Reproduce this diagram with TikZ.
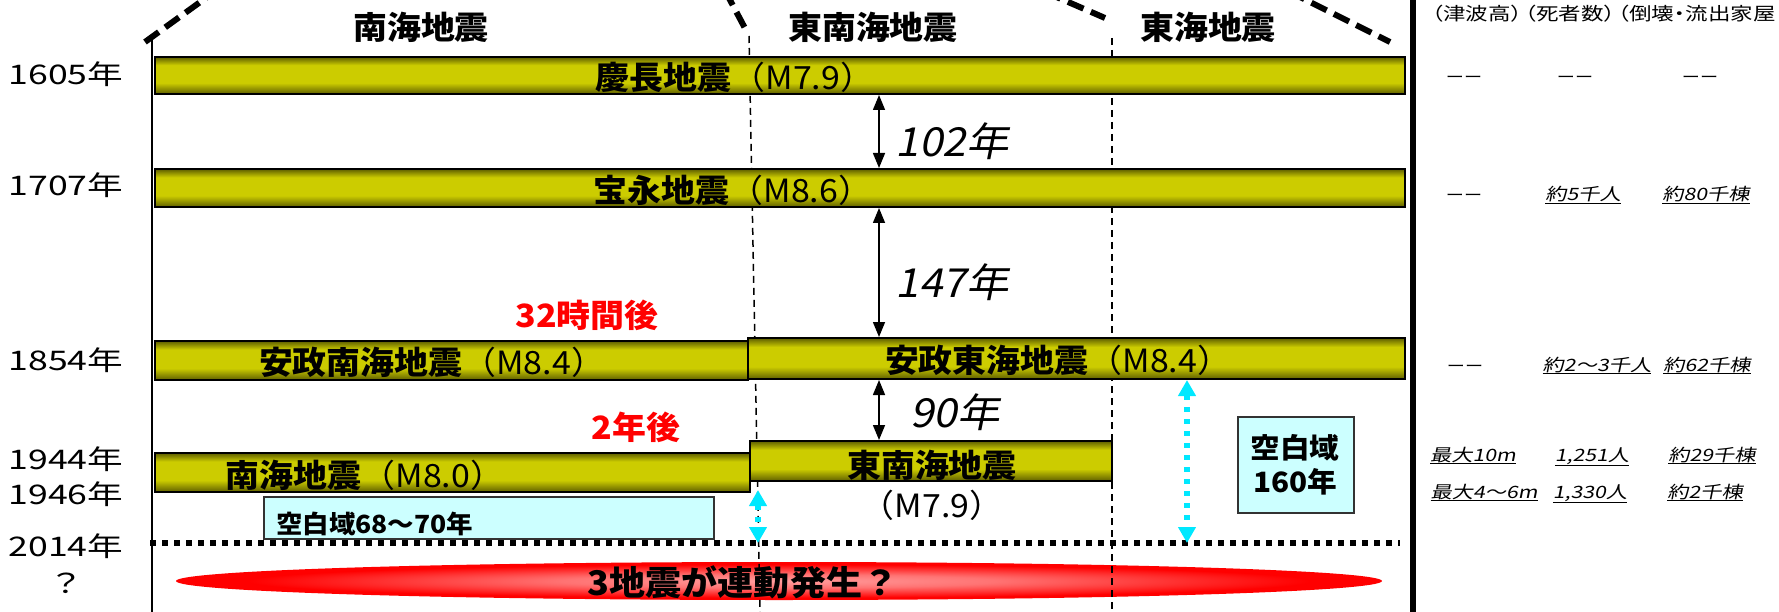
\documentclass[tikz,border=0pt]{standalone}
\usepackage{fontspec}
\setmainfont{Noto Sans CJK JP}
\newfontfamily\fmain{Noto Sans CJK JP}[FakeStretch=1.06, AutoFakeSlant=0.2]
\newfontfamily\fyear{Noto Sans CJK JP}[FakeStretch=1.32]
\newfontfamily\ftab{Noto Sans CJK JP}[FakeStretch=1.25, AutoFakeSlant=0.2]
\newfontfamily\ftabh{Noto Sans CJK JP}[FakeStretch=1.25, RawFeature=+palt]
\usetikzlibrary{arrows.meta,shapes.geometric}
\definecolor{baryl}{HTML}{CCCC00}
\definecolor{bardk}{HTML}{5E5E00}
\definecolor{boxcy}{HTML}{CCFFFF}
\definecolor{boxln}{HTML}{333333}
\definecolor{arrcy}{HTML}{00E8FF}
\definecolor{redlab}{HTML}{FF0000}
\pgfdeclareverticalshading{barshade}{100bp}{color(0bp)=(bardk); color(25bp)=(bardk); color(40bp)=(baryl); color(64bp)=(baryl); color(75bp)=(bardk); color(100bp)=(bardk)}
\pgfdeclareradialshading{redshade}{\pgfpoint{0bp}{0bp}}{color(0bp)=(red!38!white); color(9bp)=(red!55!white); color(22bp)=(red); color(50bp)=(red)}
\newcommand\uln[1]{\leavevmode\vtop{\hbox{#1}\kern0.8pt\hrule height 1.2pt}}
\tikzset{
  bar/.style={draw=black, line width=2pt, shading=barshade, inner sep=0pt, anchor=north west},
  barlab/.style={anchor=base, inner sep=0pt, font=\fmain\bfseries\fontsize{32}{36}\selectfont},
  headlab/.style={anchor=base, inner sep=0pt, font=\fmain\bfseries\fontsize{32}{36}\selectfont},
  redtxt/.style={anchor=base, inner sep=0pt, text=redlab, font=\fmain\bfseries\fontsize{32}{36}\selectfont},
  gaplab/.style={anchor=base, inner sep=0pt, font=\fmain\itshape\fontsize{40}{44}\selectfont},
  yearlab/.style={anchor=base, inner sep=0pt, font=\fyear\fontsize{27}{30}\selectfont},
  tabhead/.style={anchor=base west, inner sep=0pt, font=\ftabh\fontsize{18}{21}\selectfont},
  tabval/.style={anchor=base, inner sep=0pt, font=\ftab\itshape\fontsize{17}{20}\selectfont},
  tabdash/.style={anchor=base, inner sep=0pt, font=\ftab\fontsize{14.5}{17}\selectfont},
  cybox/.style={draw=boxln, line width=1.5pt, fill=boxcy, inner sep=0pt, anchor=north west},
  boxtxt/.style={inner sep=0pt, font=\fmain\bfseries\fontsize{25}{28}\selectfont},
  blackarr/.style={draw=black, line width=1.5pt, {Triangle[width=12pt,length=15pt]}-{Triangle[width=12pt,length=15pt]}},
  cyarr/.style={draw=arrcy, line width=5.5pt, dash pattern=on 5pt off 7pt, {Triangle[width=17pt,length=16pt]}-{Triangle[width=17pt,length=16pt]}},
  roof/.style={draw=black, line width=6pt, dash pattern=on 17pt off 8pt},
  zone/.style={draw=black, line width=1.5pt, dash pattern=on 7pt off 5pt},
  dotline/.style={draw=black, line width=5.5pt, dash pattern=on 6pt off 6pt},
}
\begin{document}
\begin{tikzpicture}[x=1pt, y=-1pt]
\useasboundingbox (0,0) rectangle (1779,612);
\clip (0,0) rectangle (1779,612);
\fill[white] (0,0) rectangle (1779,612);

% roof lines (zone boundaries)
\coordinate (r1a) at (145,42); \coordinate (r1b) at (261,-42);
\coordinate (r2a) at (713,-32); \coordinate (r2b) at (747,32);
\coordinate (r3a) at (1022,-18); \coordinate (r3b) at (1105,18);
\coordinate (r4a) at (1222,-42); \coordinate (r4b) at (1390,42);
\draw[roof] (r1a) -- (r1b);
\draw[roof] (r2a) -- (r2b);
\draw[roof] (r3a) -- (r3b);
\draw[roof] (r4a) -- (r4b);

% red ellipse
\node[ellipse, inner sep=0pt, minimum width=1206pt, minimum height=38pt, shading=redshade] (quake) at (779,581) {};

% zone dashed lines
\coordinate (z1t) at (749,36); \coordinate (z1b) at (760,612);
\coordinate (z2t) at (1112,38); \coordinate (z2b) at (1112,612);
\draw[zone] (z1t) -- (z1b);
\draw[zone] (z2t) -- (z2b);

% left axis and right separator
\coordinate (axt) at (152,40); \coordinate (axb) at (152,612);
\draw[black, line width=1.5pt] (axt) -- (axb);
\coordinate (sept) at (1413,0); \coordinate (sepb) at (1413,612);
\draw[black, line width=6pt] (sept) -- (sepb);

% bars
\node[bar, minimum width=1250pt, minimum height=37pt] (b1) at (154,56) {};
\node[bar, minimum width=1250pt, minimum height=38pt] (b2) at (154,168) {};
\node[bar, minimum width=593pt, minimum height=39pt] (b3a) at (154,340) {};
\node[bar, minimum width=657pt, minimum height=41pt] (b3b) at (747,337) {};
\node[bar, minimum width=595pt, minimum height=39pt] (b4a) at (154,452) {};
\node[bar, minimum width=362pt, minimum height=40pt] (b4b) at (749,440) {};

% bar labels
\node[barlab] (l1) at (735,90) {慶長地震\mdseries（M7.9）};
\node[barlab] (l2) at (733,203) {宝永地震\mdseries（M8.6）};
\node[barlab] (l3a) at (432,374) {安政南海地震\mdseries（M8.4）};
\node[barlab] (l3b) at (1058,372) {安政東海地震\mdseries（M8.4）};
\node[barlab] (l4a) at (365,487) {南海地震\mdseries（M8.0）};
\node[barlab] (l4b) at (932,477) {東南海地震};
\node[barlab, font=\fmain\fontsize{32}{36}\selectfont] (l4m) at (932,517) {（M7.9）};

% headers
\node[headlab] (h1) at (421,40) {南海地震};
\node[headlab] (h2) at (873,40) {東南海地震};
\node[headlab] (h3) at (1208,40) {東海地震};

% red labels
\node[redtxt] (red1) at (587,327) {32時間後};
\node[redtxt] (red2) at (636,439) {2年後};

% interval arrows
\coordinate (ax) at (879,0);
\draw[blackarr] (b1.south -| ax) -- (b2.north -| ax);
\draw[blackarr] (b2.south -| ax) -- (b3b.north -| ax);
\draw[blackarr] (b3b.south -| ax) -- (b4b.north -| ax);
\node[gaplab] (g1) at (952,157) {102年};
\node[gaplab] (g2) at (952,298) {147年};
\node[gaplab] (g3) at (955,427) {90年};

% blank-zone boxes
\node[cybox, minimum width=450pt, minimum height=42pt] (box1) at (263,496) {};
\node[boxtxt, anchor=base west] (box1t) at (276,533) {空白域68～70年};
\node[cybox, minimum width=116pt, minimum height=96pt] (box2) at (1237,416) {};
\node[boxtxt, anchor=base, font=\fmain\bfseries\fontsize{28}{30}\selectfont] (box2a) at (1295,458) {空白域};
\node[boxtxt, anchor=base, font=\fmain\bfseries\fontsize{28}{30}\selectfont] (box2b) at (1295,492) {160年};

% 2014 line
\coordinate (d14) at (150,543); \coordinate (d14e) at (1400,543);
\draw[dotline] (d14) -- (d14e);

% cyan arrows
\coordinate (cA) at (758,0); \coordinate (cB) at (1187,0);
\draw[cyarr, shorten <=8pt] (b4b.south -| cA) -- (d14 -| cA);
\draw[cyarr] (b3b.south -| cB) -- (d14 -| cB);

% ellipse text
\node[barlab, font=\fmain\bfseries\fontsize{34}{38}\selectfont] (qt) at (743,595) {3地震が連動発生？};

% years
\node[yearlab] (y1) at (66,85) {1605年};
\node[yearlab] (y2) at (66,196) {1707年};
\node[yearlab] (y3) at (66,370) {1854年};
\node[yearlab] (y4) at (66,469) {1944年};
\node[yearlab] (y5) at (66,504) {1946年};
\node[yearlab] (y6) at (66,556) {2014年};
\node[yearlab] (y7) at (66,593) {？};

% table
\node[tabhead] (th) at (1432,21) {（津波高）\,（死者数）\,（倒壊・流出家屋};
\node[tabdash] (t11) at (1464,83) {ーー};
\node[tabdash] (t12) at (1575,83) {ーー};
\node[tabdash] (t13) at (1700,83) {ーー};
\node[tabdash] (t21) at (1464,201) {ーー};
\node[tabval] (t22) at (1583,201) {\uln{約5千人}};
\node[tabval] (t23) at (1706,201) {\uln{約80千棟}};
\node[tabdash] (t31) at (1465,371) {ーー};
\node[tabval] (t32) at (1597,371) {\uln{約2～3千人}};
\node[tabval] (t33) at (1707,371) {\uln{約62千棟}};
\node[tabval] (t41) at (1473,461) {\uln{最大10m}};
\node[tabval] (t42) at (1592,461) {\uln{1,251人}};
\node[tabval] (t43) at (1712,461) {\uln{約29千棟}};
\node[tabval] (t51) at (1484,498) {\uln{最大4～6m}};
\node[tabval] (t52) at (1590,498) {\uln{1,330人}};
\node[tabval] (t53) at (1705,498) {\uln{約2千棟}};
\end{tikzpicture}
\end{document}
